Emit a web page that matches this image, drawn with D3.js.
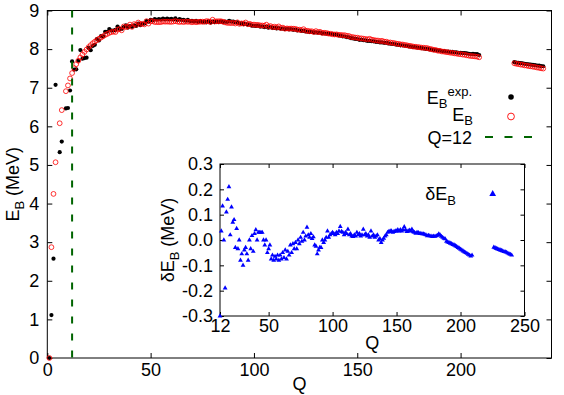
<!DOCTYPE html>
<html>
<head>
<meta charset="utf-8">
<script src="https://cdn.jsdelivr.net/npm/d3@7"></script>
<style>
  html, body { margin: 0; padding: 0; background: #fff; }
  svg { display: block; font-family: "Liberation Sans", Arial, sans-serif; }
</style>
</head>
<body>
<svg id="chart" width="564" height="395"></svg>
<script>
'use strict';

// light nuclei, Q = 1..11 (no points at 5 and 8)
const qLow = [1, 2, 3, 4, 6, 7, 9, 10, 11]
const expLow = [0, 1.112, 2.573, 7.074, 5.332, 5.606, 6.463, 6.475, 6.928]
const theoLow = [0, 2.87, 4.25, 5.07, 6.08, 6.42, 6.91, 7.06, 7.24]

// Q = 12..209, one value per Q
const qMidFirst = 12, qMidLast = 209
const expMid = [
  7.680, 7.470, 7.476, 7.699, 7.976, 7.751, 7.767, 7.779, 8.032, 7.972, // 12
  8.081, 8.112, 8.261, 8.224, 8.334, 8.332, 8.448, 8.449, 8.521, 8.481, // 22
  8.482, 8.498, 8.584, 8.520, 8.522, 8.570, 8.614, 8.557, 8.595, 8.576, // 32
  8.617, 8.601, 8.658, 8.619, 8.656, 8.661, 8.723, 8.711, 8.756, 8.742, // 42
  8.776, 8.760, 8.778, 8.765, 8.790, 8.770, 8.792, 8.768, 8.781, 8.765, // 52
  8.795, 8.752, 8.777, 8.757, 8.760, 8.734, 8.756, 8.725, 8.730, 8.718, // 62
  8.732, 8.705, 8.725, 8.701, 8.711, 8.695, 8.718, 8.688, 8.711, 8.696, // 72
  8.710, 8.696, 8.717, 8.698, 8.712, 8.705, 8.733, 8.714, 8.710, 8.693, // 82
  8.693, 8.664, 8.667, 8.649, 8.654, 8.635, 8.635, 8.608, 8.605, 8.601, // 92
  8.607, 8.584, 8.587, 8.571, 8.580, 8.554, 8.567, 8.548, 8.551, 8.537, // 102
  8.545, 8.527, 8.531, 8.514, 8.523, 8.510, 8.517, 8.499, 8.505, 8.482, // 112
  8.488, 8.472, 8.474, 8.458, 8.449, 8.446, 8.443, 8.431, 8.431, 8.424, // 122
  8.428, 8.410, 8.408, 8.398, 8.403, 8.392, 8.394, 8.378, 8.376, 8.354, // 132
  8.347, 8.330, 8.327, 8.309, 8.304, 8.284, 8.277, 8.263, 8.262, 8.240, // 142
  8.244, 8.229, 8.227, 8.213, 8.215, 8.204, 8.202, 8.189, 8.184, 8.173, // 152
  8.173, 8.162, 8.163, 8.147, 8.142, 8.132, 8.130, 8.114, 8.112, 8.098, // 162
  8.097, 8.087, 8.084, 8.069, 8.064, 8.052, 8.049, 8.039, 8.035, 8.023, // 172
  8.018, 8.007, 8.005, 7.992, 7.987, 7.975, 7.973, 7.963, 7.963, 7.948, // 182
  7.948, 7.938, 7.936, 7.927, 7.926, 7.916, 7.915, 7.905, 7.906, 7.898, // 192
  7.897, 7.887, 7.880, 7.874, 7.875, 7.870, 7.868, 7.848              // 202
]
const theoMid = [
  7.380, 7.505, 7.610, 7.699, 7.786, 7.861, 7.927, 7.989, 8.052, 8.102, // 12
  8.151, 8.192, 8.231, 8.269, 8.299, 8.332, 8.368, 8.394, 8.421, 8.441, // 22
  8.452, 8.443, 8.504, 8.520, 8.487, 8.587, 8.569, 8.582, 8.635, 8.576, // 32
  8.647, 8.631, 8.688, 8.649, 8.656, 8.641, 8.723, 8.661, 8.721, 8.722, // 42
  8.701, 8.700, 8.698, 8.700, 8.715, 8.710, 8.712, 8.708, 8.706, 8.715, // 52
  8.725, 8.712, 8.702, 8.712, 8.700, 8.714, 8.706, 8.710, 8.695, 8.708, // 62
  8.697, 8.705, 8.710, 8.711, 8.706, 8.725, 8.718, 8.703, 8.761, 8.716, // 72
  8.720, 8.721, 8.722, 8.710, 8.692, 8.680, 8.678, 8.674, 8.680, 8.663, // 82
  8.693, 8.654, 8.667, 8.659, 8.689, 8.645, 8.655, 8.633, 8.635, 8.626, // 92
  8.627, 8.614, 8.612, 8.606, 8.633, 8.587, 8.597, 8.568, 8.581, 8.562, // 102
  8.587, 8.547, 8.556, 8.529, 8.536, 8.530, 8.532, 8.529, 8.525, 8.507, // 112
  8.503, 8.492, 8.516, 8.478, 8.474, 8.461, 8.463, 8.441, 8.466, 8.439, // 122
  8.448, 8.420, 8.423, 8.418, 8.403, 8.397, 8.384, 8.378, 8.382, 8.369, // 132
  8.367, 8.360, 8.360, 8.344, 8.339, 8.314, 8.310, 8.298, 8.297, 8.280, // 142
  8.279, 8.269, 8.262, 8.253, 8.267, 8.244, 8.235, 8.224, 8.222, 8.208, // 152
  8.215, 8.194, 8.193, 8.173, 8.172, 8.161, 8.155, 8.140, 8.136, 8.122, // 162
  8.119, 8.107, 8.100, 8.087, 8.080, 8.067, 8.062, 8.054, 8.049, 8.039, // 172
  8.036, 8.031, 8.025, 8.006, 7.997, 7.981, 7.977, 7.958, 7.955, 7.938, // 182
  7.935, 7.923, 7.918, 7.907, 7.903, 7.890, 7.885, 7.872, 7.869, 7.858, // 192
  7.853, 7.840, 7.830, 7.821, 7.818, 7.810, 7.804, 7.788              // 202
]
const deltaMid = [
  -0.300, 0.035, 0.134, 0.000, -0.190, 0.110, 0.160, 0.210, 0.020, 0.130, // 12
  0.070, 0.080, -0.030, 0.045, -0.035, 0.000, -0.080, -0.055, -0.100, -0.040, // 22
  -0.030, -0.055, -0.080, 0.000, -0.035, 0.017, -0.045, 0.025, 0.040, 0.000, // 32
  0.030, 0.030, 0.030, 0.030, 0.000, -0.020, 0.000, -0.050, -0.035, -0.020, // 42
  -0.075, -0.060, -0.080, -0.065, -0.075, -0.060, -0.080, -0.060, -0.075, -0.050, // 52
  -0.070, -0.040, -0.075, -0.045, -0.060, -0.020, -0.050, -0.015, -0.035, -0.010, // 62
  -0.035, 0.000, -0.015, 0.010, -0.005, 0.030, 0.000, 0.015, 0.050, 0.020, // 72
  0.010, 0.025, 0.005, 0.012, -0.020, -0.025, -0.055, -0.040, -0.030, -0.030, // 82
  0.000, -0.010, 0.000, 0.010, 0.035, 0.010, 0.020, 0.025, 0.030, 0.025, // 92
  0.020, 0.030, 0.025, 0.035, 0.053, 0.033, 0.030, 0.020, 0.030, 0.025, // 102
  0.042, 0.020, 0.025, 0.015, 0.013, 0.020, 0.015, 0.030, 0.020, 0.025, // 112
  0.015, 0.020, 0.042, 0.020, 0.025, 0.015, 0.020, 0.010, 0.035, 0.015, // 122
  0.020, 0.010, 0.015, 0.020, 0.000, 0.005, -0.010, 0.000, 0.006, 0.015, // 132
  0.020, 0.030, 0.033, 0.035, 0.035, 0.030, 0.033, 0.035, 0.035, 0.040, // 142
  0.035, 0.040, 0.035, 0.040, 0.052, 0.040, 0.033, 0.035, 0.038, 0.035, // 152
  0.042, 0.032, 0.030, 0.026, 0.030, 0.029, 0.025, 0.026, 0.024, 0.024, // 162
  0.022, 0.020, 0.016, 0.018, 0.016, 0.015, 0.013, 0.015, 0.014, 0.016, // 172
  0.018, 0.024, 0.020, 0.014, 0.010, 0.006, 0.004, -0.005, -0.008, -0.010, // 182
  -0.013, -0.015, -0.018, -0.020, -0.023, -0.026, -0.030, -0.033, -0.037, -0.040, // 192
  -0.044, -0.047, -0.050, -0.053, -0.057, -0.060, -0.064, -0.060             // 202
]

// heavy nuclei, Q = 226..240
const qHighFirst = 226, qHighLast = 240
const expHigh = [7.662, 7.651, 7.645, 7.635, 7.631, 7.618, 7.615, 7.604, 7.600, 7.591, 7.586, 7.575, 7.570, 7.560, 7.556]
const theoHigh = [7.633, 7.620, 7.611, 7.599, 7.593, 7.578, 7.573, 7.560, 7.554, 7.544, 7.537, 7.523, 7.515, 7.503, 7.496]
const deltaHigh = [-0.029, -0.031, -0.034, -0.036, -0.038, -0.040, -0.042, -0.044, -0.046, -0.047, -0.049, -0.052, -0.055, -0.057, -0.060]

const xTicks = [0, 50, 100, 150, 200]
const yTicks = [0, 1, 2, 3, 4, 5, 6, 7, 8, 9]
const insetXTicks = [12, 50, 100, 150, 200, 250]
const insetYTicks = [-0.3, -0.2, -0.1, 0.0, 0.1, 0.2, 0.3]
const cutQ = 12

// build point lists
const qMid = d3.range(qMidFirst, qMidLast + 1)
const qHigh = d3.range(qHighFirst, qHighLast + 1)
const qAll = qLow.concat(qMid, qHigh)
const expPts = qAll.map((q, i) => ({q, v: expLow.concat(expMid, expHigh)[i]}))
const theoPts = qAll.map((q, i) => ({q, v: theoLow.concat(theoMid, theoHigh)[i]}))
const deltaPts = qMid.concat(qHigh).map((q, i) => ({q, v: deltaMid.concat(deltaHigh)[i]}))

const svg = d3.select('#chart')
const fontSize = 18
const subSize = 13

/**
 * Main plot
 */
const x = d3.scaleLinear().domain([0, 244]).range([47.3, 551.5])
const y = d3.scaleLinear().domain([0, 9]).range([358, 10.5])

const styleAxis = g => {
  g.select('.domain').remove()
  g.selectAll('.tick line').attr('stroke', '#000')
  g.selectAll('.tick text').attr('fill', '#000').style('font-size', fontSize + 'px')
    .style('font-family', '"Liberation Sans", Arial, sans-serif')
}

svg.append('g')
  .attr('transform', `translate(0,${y(0)})`)
  .call(d3.axisBottom(x).tickValues(xTicks).tickSizeInner(-5).tickSizeOuter(0).tickPadding(5))
  .call(styleAxis)
svg.append('g')
  .attr('transform', `translate(0,${y(9)})`)
  .call(d3.axisTop(x).tickValues(xTicks).tickSizeInner(-5).tickSizeOuter(0).tickFormat(''))
  .call(styleAxis)
svg.append('g')
  .attr('transform', `translate(${x(0)},0)`)
  .call(d3.axisLeft(y).tickValues(yTicks).tickSizeInner(-5).tickSizeOuter(0).tickPadding(8))
  .call(styleAxis)
svg.append('g')
  .attr('transform', `translate(${x(244)},0)`)
  .call(d3.axisRight(y).tickValues(yTicks).tickSizeInner(-5).tickSizeOuter(0).tickFormat(''))
  .call(styleAxis)

svg.append('rect')
  .attr('x', x(0)).attr('y', y(9))
  .attr('width', x(244) - x(0)).attr('height', y(0) - y(9))
  .attr('fill', 'none').attr('stroke', '#000').attr('stroke-width', 1)

svg.append('g').selectAll('circle')
  .data(expPts)
  .join('circle')
  .attr('cx', d => x(d.q)).attr('cy', d => y(d.v))
  .attr('r', 2.1).attr('fill', '#000')

svg.append('g').selectAll('circle')
  .data(theoPts)
  .join('circle')
  .attr('cx', d => x(d.q)).attr('cy', d => y(d.v))
  .attr('r', 2.4).attr('fill', 'none').attr('stroke', '#ff0000').attr('stroke-width', 0.8)

svg.append('line')
  .attr('x1', x(cutQ)).attr('x2', x(cutQ))
  .attr('y1', y(9)).attr('y2', y(0))
  .attr('stroke', '#006400').attr('stroke-width', 2).attr('stroke-dasharray', '7,10')

// axis titles
svg.append('text')
  .attr('transform', `translate(19,${(y(0) + y(9)) / 2}) rotate(-90)`)
  .attr('text-anchor', 'middle').style('font-size', fontSize + 'px')
  .call(t => {
    t.append('tspan').text('E')
    t.append('tspan').attr('dy', 5).style('font-size', subSize + 'px').text('B')
    t.append('tspan').attr('dy', -5).text(' (MeV)')
  })
svg.append('text')
  .attr('x', (x(0) + x(244)) / 2).attr('y', 390)
  .attr('text-anchor', 'middle').style('font-size', fontSize + 'px').text('Q')

// legend
const legend = svg.append('g').style('font-size', fontSize + 'px')
legend.append('text').attr('x', 472).attr('y', 104).attr('text-anchor', 'end')
  .call(t => {
    t.append('tspan').text('E')
    t.append('tspan').attr('dy', 4).style('font-size', subSize + 'px').text('B')
    t.append('tspan').attr('dy', -12).style('font-size', subSize + 'px').text('exp.')
  })
legend.append('circle').attr('cx', 511).attr('cy', 97).attr('r', 2.8).attr('fill', '#000')
legend.append('text').attr('x', 473).attr('y', 121).attr('text-anchor', 'end')
  .call(t => {
    t.append('tspan').text('E')
    t.append('tspan').attr('dy', 4).style('font-size', subSize + 'px').text('B')
  })
legend.append('circle').attr('cx', 511).attr('cy', 116.5).attr('r', 3.4)
  .attr('fill', 'none').attr('stroke', '#ff0000').attr('stroke-width', 0.9)
legend.append('text').attr('x', 472).attr('y', 144).attr('text-anchor', 'end').text('Q=12')
legend.append('line').attr('x1', 485).attr('x2', 533).attr('y1', 137).attr('y2', 137)
  .attr('stroke', '#006400').attr('stroke-width', 2).attr('stroke-dasharray', '8,11.5')

/**
 * Inset
 */
const xi = d3.scaleLinear().domain([12, 250]).range([220, 524.5])
const yi = d3.scaleLinear().domain([-0.3, 0.3]).range([316, 164])

svg.append('rect')
  .attr('x', xi(12)).attr('y', yi(0.3))
  .attr('width', xi(250) - xi(12)).attr('height', yi(-0.3) - yi(0.3))
  .attr('fill', '#fff')

svg.append('g')
  .attr('transform', `translate(0,${yi(-0.3)})`)
  .call(d3.axisBottom(xi).tickValues(insetXTicks).tickSizeInner(-4).tickSizeOuter(0).tickPadding(3))
  .call(styleAxis)
svg.append('g')
  .attr('transform', `translate(0,${yi(0.3)})`)
  .call(d3.axisTop(xi).tickValues(insetXTicks).tickSizeInner(-4).tickSizeOuter(0).tickFormat(''))
  .call(styleAxis)
svg.append('g')
  .attr('transform', `translate(${xi(12)},0)`)
  .call(d3.axisLeft(yi).tickValues(insetYTicks).tickSizeInner(-4).tickSizeOuter(0).tickPadding(7))
  .call(styleAxis)
  .call(g => g.selectAll('.tick text').text(d => d3.format('.1f')(d).replace('−', '-')))
svg.append('g')
  .attr('transform', `translate(${xi(250)},0)`)
  .call(d3.axisRight(yi).tickValues(insetYTicks).tickSizeInner(-4).tickSizeOuter(0).tickFormat(''))
  .call(styleAxis)

svg.append('rect')
  .attr('x', xi(12)).attr('y', yi(0.3))
  .attr('width', xi(250) - xi(12)).attr('height', yi(-0.3) - yi(0.3))
  .attr('fill', 'none').attr('stroke', '#000').attr('stroke-width', 1)

const tri = d3.symbol().type(d3.symbolTriangle)
svg.append('g').selectAll('path')
  .data(deltaPts)
  .join('path')
  .attr('transform', d => `translate(${xi(d.q)},${yi(d.v)})`)
  .attr('d', tri.size(10)())
  .attr('fill', '#0000ff')

svg.append('text')
  .attr('transform', `translate(174,${(yi(-0.3) + yi(0.3)) / 2}) rotate(-90)`)
  .attr('text-anchor', 'middle').style('font-size', fontSize + 'px')
  .call(t => {
    t.append('tspan').text('δE')
    t.append('tspan').attr('dy', 5).style('font-size', subSize + 'px').text('B')
    t.append('tspan').attr('dy', -5).text(' (MeV)')
  })
svg.append('text')
  .attr('x', (xi(12) + xi(250)) / 2).attr('y', 349)
  .attr('text-anchor', 'middle').style('font-size', fontSize + 'px').text('Q')

svg.append('text').attr('x', 456).attr('y', 200).attr('text-anchor', 'end')
  .style('font-size', fontSize + 'px')
  .call(t => {
    t.append('tspan').text('δE')
    t.append('tspan').attr('dy', 5).style('font-size', subSize + 'px').text('B')
  })
svg.append('path')
  .attr('transform', 'translate(492.7,194)')
  .attr('d', d3.symbol().type(d3.symbolTriangle).size(20)())
  .attr('fill', '#0000ff')
</script>
</body>
</html>
